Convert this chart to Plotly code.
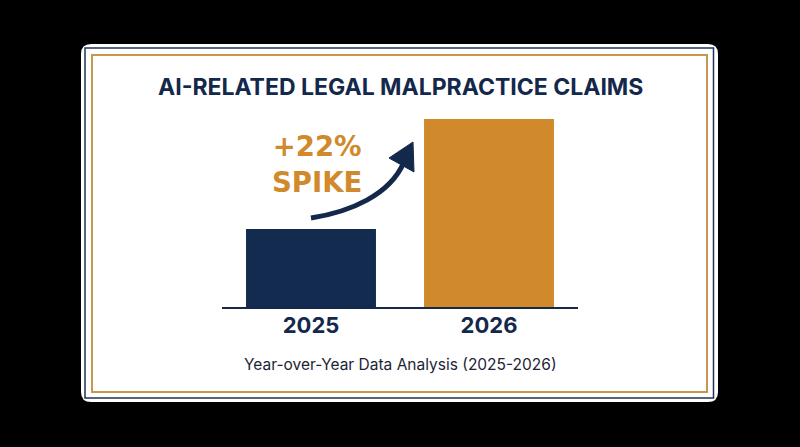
import plotly.graph_objects as go

# ---- data ----
years = ["2025", "2026"]
claims_index = [41.5, 100.0]
bar_colors = ["#132b4e", "#d08a2c"]
title_text = "AI-RELATED LEGAL MALPRACTICE CLAIMS"
subtitle_text = "Year-over-Year Data Analysis (2025-2026)"
spike_text = "+22%<br>SPIKE"

W, H = 800, 447
L, R, T, B = 222, 222, 110, 140
NAVY = "#13284b"
GOLD = "#d08a2c"


def px(x):
    return (x - L) / (W - L - R)


def py(y):
    return (H - B - y) / (H - T - B)


def rounded_rect(x0, y0, x1, y1, r):
    return (f"M {px(x0 + r)} {py(y0)} L {px(x1 - r)} {py(y0)} "
            f"Q {px(x1)} {py(y0)} {px(x1)} {py(y0 + r)} "
            f"L {px(x1)} {py(y1 - r)} Q {px(x1)} {py(y1)} {px(x1 - r)} {py(y1)} "
            f"L {px(x0 + r)} {py(y1)} Q {px(x0)} {py(y1)} {px(x0)} {py(y1 - r)} "
            f"L {px(x0)} {py(y0 + r)} Q {px(x0)} {py(y0)} {px(x0 + r)} {py(y0)} Z")


fig = go.Figure()
fig.add_trace(go.Bar(x=years, y=claims_index, marker=dict(color=bar_colors, line=dict(width=0)),
                     width=0.73, hoverinfo="skip"))

shapes = [
    dict(type="path", path=rounded_rect(81, 44, 718, 402, 10), xref="paper", yref="paper",
         fillcolor="white", line=dict(width=0), layer="below"),
    dict(type="rect", x0=px(85), x1=px(713.5), y0=py(48), y1=py(398), xref="paper", yref="paper",
         line=dict(color="#1f3354", width=1.5), layer="below"),
    dict(type="rect", x0=px(92), x1=px(707), y0=py(55), y1=py(392), xref="paper", yref="paper",
         line=dict(color="#c99550", width=2), layer="below"),
    # curved arrow
    dict(type="path", xref="paper", yref="paper",
         path=f"M {px(311)} {py(218)} C {px(350)} {py(212)}, {px(390)} {py(195)}, {px(404)} {py(162)}",
         line=dict(color=NAVY, width=5), layer="above"),
    dict(type="path", xref="paper", yref="paper",
         path=f"M {px(413)} {py(142)} L {px(389)} {py(158)} L {px(414)} {py(172)} Z",
         fillcolor=NAVY, line=dict(color=NAVY, width=1), layer="above"),
]

annotations = [
    dict(text=f"<b>{title_text}</b>", x=px(400), y=py(87), xref="paper", yref="paper",
         showarrow=False, xanchor="center", yanchor="middle",
         font=dict(family="Inter", size=23, color=NAVY)),
    dict(text=f"<b>{spike_text}</b>", x=px(317), y=py(164), xref="paper", yref="paper",
         showarrow=False, xanchor="center", yanchor="middle", align="center",
         font=dict(family="DejaVu Sans", size=27.5, color=GOLD)),
    dict(text=subtitle_text, x=px(400), y=py(364), xref="paper", yref="paper",
         showarrow=False, xanchor="center", yanchor="middle",
         font=dict(family="Inter", size=15.5, color="#1c2435")),
]

fig.update_layout(
    width=W, height=H,
    margin=dict(l=L, r=R, t=T, b=B, pad=0),
    paper_bgcolor="black",
    plot_bgcolor="rgba(0,0,0,0)",
    showlegend=False,
    shapes=shapes,
    annotations=annotations,
    xaxis=dict(range=[-0.5, 1.5], showgrid=False, zeroline=False, showline=True,
               linecolor=NAVY, linewidth=2, ticks="", ticklabelstandoff=-2,
               tickfont=dict(family="Inter", size=22, color=NAVY, weight="bold")),
    yaxis=dict(range=[0, 100 * 197 / 188], visible=False, showgrid=False, zeroline=False),
)

fig.write_html("out.html", config={"displayModeBar": False},
               post_script="document.body.style.margin='0';document.body.style.background='black';")
